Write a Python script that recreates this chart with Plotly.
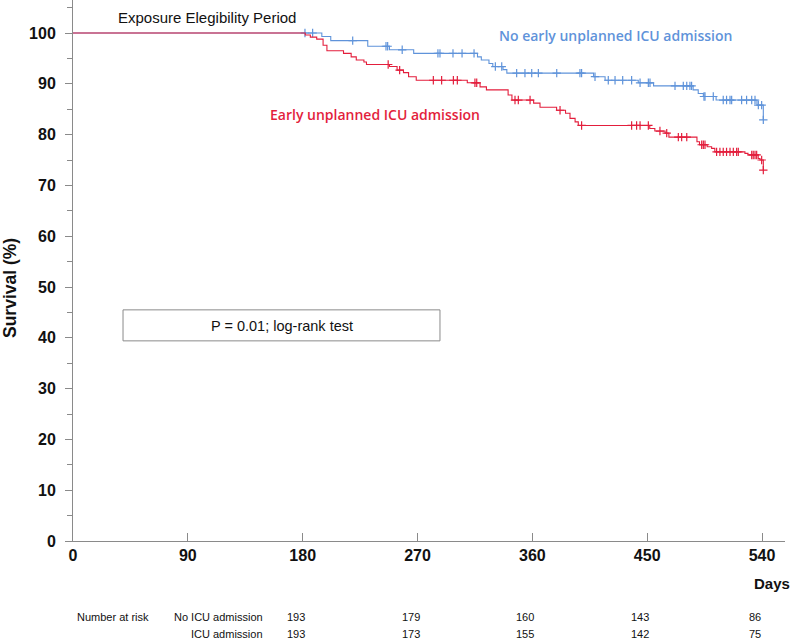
import numpy as np
import plotly.graph_objects as go

# ---------------- data ----------------
blue_times = [0, 195, 202, 231, 248, 267, 317, 320, 326, 329, 337, 340, 408, 417, 443, 455,
              486, 490, 494, 504, 536, 541]
blue_surv = [100, 99.3, 98.5, 97.4, 96.7, 96.0, 95.3, 94.7, 94.0, 93.4, 92.8, 92.1, 91.4, 90.7,
             90.2, 89.6, 88.8, 88.1, 87.5, 86.8, 85.8, 82.9]
blue_censor = [181.8, 187.8, 219.2, 245.3, 246.6, 258, 286, 287.6, 297.8, 304.9, 314.3,
               331, 336, 347.7, 354.2, 359.5, 364.7, 379.1, 397.3, 398.6, 409.1, 419.5, 424.8,
               430.8, 437.8, 444.4, 450.9, 452.2, 471.8, 478.3, 481, 483.5, 484.8, 494.5,
               495.3, 501.8, 509.6, 512.2, 514.9, 516.2, 524, 527.9, 531.9, 534.5, 537.1,
               539.7, 541]

red_times = [0, 182, 186, 191, 196, 199, 212, 218, 222, 228, 230, 248, 254, 259, 263, 269,
             309, 319, 324, 341, 344, 361, 366, 379, 386, 389.5, 393.5, 396, 452, 456, 464,
             467, 489, 491, 497, 500.5, 503, 526.6, 529, 537, 538.4, 541]
red_surv = [100, 99.6, 99.2, 98.8, 97.6, 96.5, 96.0, 95.3, 94.7, 94.3, 93.8, 93.4, 92.7, 92.2,
            91.4, 90.7, 90.2, 89.4, 88.8, 87.8, 86.8, 86.2, 85.4, 84.8, 84.2, 83.2, 82.5, 81.8,
            81.2, 80.7, 80.3, 79.5, 78.6, 78.0, 77.6, 77.3, 76.6, 76.3, 76.0, 75.3, 75.0, 73.0]
red_censor = [247, 256, 282.4, 288.9, 298.1, 301.2, 315, 316.4, 346.4, 349, 358.2, 381.7,
              398.6, 437.8, 441.7, 444.4, 450.9, 460, 465.3, 474.4, 477, 481, 492.7, 494,
              495.3, 504.4, 507, 509.6, 512.2, 514.9, 517.5, 520.1, 521.4, 531.9, 533.1,
              534.5, 535.8, 539.7, 541]

risk_days = [180, 270, 360, 450, 540]
risk_no_icu = [193, 179, 160, 143, 86]
risk_icu = [193, 173, 155, 142, 75]
x_ticks = [0, 90, 180, 270, 360, 450, 540]
y_ticks = [0, 10, 20, 30, 40, 50, 60, 70, 80, 90, 100]

# ---------------- styling ----------------
BLUE = "#5f93da"
RED = "#e31e3c"
AXIS = "#8a8a8a"
FONT = "Liberation Sans, Arial, sans-serif"
LABEL_FONT = "Open Sans, Liberation Sans, sans-serif"

W, H = 800, 640
ML, MR, MT, MB = 73, 15, 0, 99
PW, PH = W - ML - MR, H - MT - MB


def px_x(p):
    return (p - ML) / PW


def px_y(p):
    return (H - MB - p) / PH


def censor_y(times, surv, ct):
    idx = np.searchsorted(np.array(times), np.array(ct), side="right") - 1
    return np.array(surv)[idx]


fig = go.Figure()
for times, surv, cens, col in [(blue_times, blue_surv, blue_censor, BLUE),
                               (red_times, red_surv, red_censor, RED)]:
    fig.add_trace(go.Scatter(x=times, y=surv, mode="lines", line=dict(color=col, width=1.1, shape="hv"),
                             hoverinfo="skip", showlegend=False))
    fig.add_trace(go.Scatter(x=cens, y=censor_y(times, surv, cens), mode="markers",
                             marker=dict(symbol="cross-thin", size=6, line=dict(color=col, width=1.2)),
                             hoverinfo="skip", showlegend=False))


def ann(x, y, text, font, xref="paper", yref="paper", xanchor="center", **kw):
    return dict(x=x, y=y, xref=xref, yref=yref, text=text, showarrow=False, font=font,
                xanchor=xanchor, yanchor="middle", **kw)


annotations = [
    ann(105, 103.1, "Exposure Elegibility Period", dict(family=FONT, size=15, color="#111"), "x", "y"),
    ann(424.8, 99.6, "No early unplanned ICU admission",
        dict(family=LABEL_FONT, size=14, color=BLUE, weight=600), "x", "y"),
    ann(236.7, 83.9, "Early unplanned ICU admission",
        dict(family=LABEL_FONT, size=14, color=RED, weight=600), "x", "y"),
    ann(163.8, 42.4, "P = 0.01; log-rank test", dict(family=FONT, size=14.5, color="#111"), "x", "y"),
    ann(px_x(10), px_y(288), "Survival (%)", dict(family=FONT, size=17.5, color="#111", weight="bold"),
        textangle=-90),
    ann(px_x(772), px_y(583), "Days", dict(family=FONT, size=15, color="#111", weight="bold")),
    ann(px_x(113), px_y(617), "Number at risk", dict(family=FONT, size=11, color="#111")),
    ann(px_x(265), px_y(617), "No ICU admission", dict(family=FONT, size=11, color="#111"), xanchor="right"),
    ann(px_x(265), px_y(634), "ICU admission", dict(family=FONT, size=11, color="#111"), xanchor="right"),
]
for d, a, b in zip(risk_days, risk_no_icu, risk_icu):
    annotations.append(ann(d, px_y(617), str(a), dict(family=FONT, size=11, color="#111"), "x", "paper",
                           xshift=-7))
    annotations.append(ann(d, px_y(634), str(b), dict(family=FONT, size=11, color="#111"), "x", "paper",
                           xshift=-7))

fig.update_layout(
    width=W, height=H, margin=dict(l=ML, r=MR, t=MT, b=MB, autoexpand=False),
    paper_bgcolor="white", plot_bgcolor="white",
    annotations=annotations,
    shapes=[dict(type="rect", xref="x", yref="y", x0=39.2, x1=287.6, y0=39.4, y1=45.5,
                 line=dict(color=AXIS, width=1), fillcolor="rgba(0,0,0,0)")],
    xaxis=dict(range=[0, 558], tickvals=x_ticks, ticks="inside", ticklen=8, tickcolor=AXIS,
               showline=True, linecolor=AXIS, linewidth=1, showgrid=False, zeroline=False,
               automargin=False,
               tickfont=dict(family=FONT, size=16, color="#111", weight="bold")),
    yaxis=dict(range=[0, 106.5], tickvals=y_ticks, ticks="outside", ticklen=7, tickcolor=AXIS,
               showline=True, linecolor=AXIS, linewidth=1, showgrid=False, zeroline=False,
               automargin=False,
               minor=dict(dtick=5, ticks="outside", ticklen=5, tickcolor=AXIS, showgrid=False),
               tickfont=dict(family=FONT, size=16, color="#111", weight="bold"),
               ticklabelstandoff=6),
)

fig.write_html("out.html", config={"displayModeBar": False},
               post_script="document.body.style.margin='0';")
